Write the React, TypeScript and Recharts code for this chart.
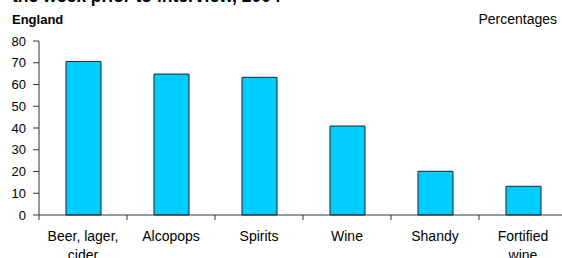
import { BarChart, Bar, XAxis, YAxis } from "recharts";

// Drinks consumed in the week prior to interview, 2004 (England, %)
const drinks = ["Beer, lager, cider", "Alcopops", "Spirits", "Wine", "Shandy", "Fortified wine"];
const percentages = [70.6, 64.8, 63.3, 40.9, 20.1, 13.2];
const tickLabels = [["Beer, lager,", "cider"], ["Alcopops"], ["Spirits"], ["Wine"], ["Shandy"], ["Fortified", "wine"]];
const yTicks = [0, 10, 20, 30, 40, 50, 60, 70, 80];

const data = drinks.map((name, i) => ({ name, value: percentages[i] }));

const FONT = "'Liberation Sans', Arial, sans-serif";
const CHART_W = 573;
const MARGIN = { top: 41, right: 6, bottom: 0, left: 0 };
const Y_W = 39;
const HALF_BAND = (CHART_W - MARGIN.left - MARGIN.right - Y_W) / drinks.length / 2;

function CategoryTick(props: any) {
  const { x, y, index } = props;
  const lines = tickLabels[index] || [];
  return (
    <g>
      <line x1={x - HALF_BAND} x2={x - HALF_BAND} y1={y} y2={y + 5} stroke="#333" />
      {index === drinks.length - 1 && (
        <line x1={x + HALF_BAND} x2={x + HALF_BAND} y1={y} y2={y + 5} stroke="#333" />
      )}
      {lines.map((t: string, i: number) => (
        <text key={i} x={x} y={y + 26 + i * 19} textAnchor="middle" fontSize={14} fontFamily={FONT} fill="#000">
          {t}
        </text>
      ))}
    </g>
  );
}

export default function App() {
  return (
    <div style={{ position: "absolute", left: 0, top: 0, width: 562, height: 258, overflow: "hidden", background: "#fff" }}>
      <BarChart width={CHART_W} height={258} data={data} margin={MARGIN} barSize={35}>
        <XAxis
          dataKey="name"
          height={43}
          interval={0}
          tickLine={false}
          tickSize={0}
          tickMargin={0}
          axisLine={{ stroke: "#333" }}
          tick={<CategoryTick />}
        />
        <YAxis
          width={Y_W}
          domain={[0, 80]}
          ticks={yTicks}
          interval={0}
          tickSize={6}
          tickMargin={7}
          axisLine={{ stroke: "#333" }}
          tickLine={{ stroke: "#333" }}
          tick={{ fill: "#000", fontSize: 13, fontFamily: FONT }}
        />
        <Bar dataKey="value" fill="#00CCFF" stroke="#222" strokeWidth={1} isAnimationActive={false} />
      </BarChart>
      <svg width={562} height={258} style={{ position: "absolute", left: 0, top: 0, pointerEvents: "none" }}>
        <text x={12} y={2} fontSize={17.5} fontWeight="bold" fontFamily={FONT} fill="#000">
          the week prior to interview, 2004
        </text>
        <text x={12} y={24} fontSize={13} fontWeight="bold" fontFamily={FONT} fill="#000">
          England
        </text>
        <text x={557} y={24} fontSize={14} textAnchor="end" fontFamily={FONT} fill="#000">
          Percentages
        </text>
      </svg>
    </div>
  );
}
